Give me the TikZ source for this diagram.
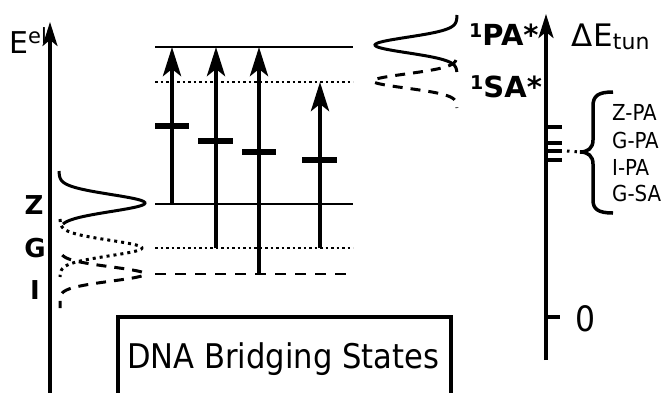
\documentclass[tikz,border=0pt]{standalone}
\usepackage{fontspec}
\setmainfont{DejaVu Sans}
\newfontfamily\condfont{DejaVu Sans Condensed}
\usetikzlibrary{arrows.meta}
\begin{document}
\begin{tikzpicture}[x=1pt,y=-1pt,
  level/.style={line width=2.5pt},
  dotlevel/.style={line width=2.5pt, dash pattern=on 2.5pt off 3pt},
  dashlevel/.style={line width=2.5pt, dash pattern=on 11pt off 9pt},
  excite/.style={line width=4.5pt, -{Stealth[length=29pt,width=18pt,inset=7pt]}},
  bridge/.style={line width=5.5pt},
  axisline/.style={line width=3.5pt, -{Stealth[length=24pt,width=15pt,inset=6pt]}},
  gauss/.style={line width=3pt, smooth},
  gaussdot/.style={gauss, dash pattern=on 3pt off 4pt},
  gaussdash/.style={gauss, dash pattern=on 10pt off 8pt},
  tick/.style={line width=4pt},
  lab/.style={inner sep=0pt, anchor=base west},
  bold/.style={inner sep=0pt, font=\fontsize{26}{26}\selectfont\bfseries},
  tunlab/.style={lab, font=\condfont\fontsize{22}{22}\selectfont},
]
\useasboundingbox (0,0) rectangle (664,392);

% energy axes
\coordinate (eb) at (50,395);
\coordinate (et) at (50,22);
\draw[axisline] (eb) -- (et);
\coordinate (tb) at (546,360);
\coordinate (tt) at (546,14);
\draw[axisline] (tb) -- (tt);

% level lines
\coordinate (paL) at (155,47);  \coordinate (paR) at (353,47);
\coordinate (saL) at (155,82);  \coordinate (saR) at (353,82);
\coordinate (zL) at (155,204);  \coordinate (zR) at (353,204);
\coordinate (gL) at (155,248);  \coordinate (gR) at (353,248);
\coordinate (iL) at (155,274);  \coordinate (iR) at (353,274);
\draw[level] (paL) -- (paR);
\draw[dotlevel] (saL) -- (saR);
\draw[level] (zL) -- (zR);
\draw[dotlevel] (gL) -- (gR);
\draw[dashlevel] (iL) -- (iR);

% excitation arrows
\coordinate (a1s) at (172,204); \coordinate (a1e) at (172,47);
\coordinate (a2s) at (216,248); \coordinate (a2e) at (216,47);
\coordinate (a3s) at (259,274); \coordinate (a3e) at (259,47);
\coordinate (a4s) at (320,248); \coordinate (a4e) at (320,82);
\draw[excite] (a1s) -- (a1e);
\draw[excite] (a2s) -- (a2e);
\draw[excite] (a3s) -- (a3e);
\draw[excite] (a4s) -- (a4e);

% bridging state bars
\coordinate (b1l) at (155,126); \coordinate (b1r) at (189,126);
\coordinate (b2l) at (198,141); \coordinate (b2r) at (233,141);
\coordinate (b3l) at (242,152); \coordinate (b3r) at (276,152);
\coordinate (b4l) at (302,160); \coordinate (b4r) at (337,160);
\draw[bridge] (b1l) -- (b1r);
\draw[bridge] (b2l) -- (b2r);
\draw[bridge] (b3l) -- (b3r);
\draw[bridge] (b4l) -- (b4r);

% ground state distributions
\draw[gauss] plot[domain=171:224, samples=70] ({59+86*exp(-((\x-203)/12)^2)}, \x);
\draw[gaussdot] plot[domain=219:277, samples=70] ({60+82*exp(-((\x-248)/11)^2)}, \x);
\draw[gaussdash] plot[domain=255:308, samples=70] ({60+85*exp(-((\x-274)/10)^2)}, \x);

% excited state distributions
\draw[gauss] plot[domain=15:72, samples=70] ({457-82*exp(-((\x-45)/11)^2)}, \x);
\draw[gaussdash] plot[domain=60:108, samples=70] ({457-84*exp(-((\x-81)/10)^2)}, \x);

% labels
\node[lab, font=\fontsize{30}{30}\selectfont] (eel) at (9,53) {E\raisebox{10pt}{\fontsize{21}{21}\selectfont el}};
\node[lab, font=\fontsize{31}{31}\selectfont] (dE) at (571,46) {Δ\kern1pt E\raisebox{-3pt}{\fontsize{22}{22}\selectfont tun}};
\node[bold] (zlab) at (34,205) {Z};
\node[bold] (glab) at (35,248) {G};
\node[bold] (ilab) at (35,290) {I};
\node[lab, font=\fontsize{29}{29}\selectfont\bfseries] (palab) at (469,45) {\raisebox{8pt}{\fontsize{19}{19}\selectfont 1}PA*};
\node[lab, font=\fontsize{29}{29}\selectfont\bfseries] (salab) at (470,97) {\raisebox{8pt}{\fontsize{19}{19}\selectfont 1}SA*};

% tunnelling energies
\coordinate (t1l) at (545,127); \coordinate (t1r) at (562,127);
\coordinate (t2l) at (545,143); \coordinate (t2r) at (562,143);
\coordinate (t3l) at (545,151); \coordinate (t3r) at (562,151);
\coordinate (t4l) at (545,160); \coordinate (t4r) at (562,160);
\coordinate (t0l) at (545,317); \coordinate (t0r) at (560,317);
\draw[tick] (t1l) -- (t1r);
\draw[tick] (t2l) -- (t2r);
\draw[tick] (t3l) -- (t3r);
\draw[tick] (t4l) -- (t4r);
\draw[tick] (t0l) -- (t0r);
\node[lab, font=\condfont\fontsize{35}{35}\selectfont] (zero) at (575,331) {0};

% brace grouping the four pathways
\coordinate (brtip) at (580,152);
\draw[line width=3.5pt] (613,92) .. controls (598,92) and (593,96) .. (593,106) -- (593,140)
  .. controls (593,148) and (588,152) .. (brtip)
  .. controls (588,152) and (593,156) .. (593,164) -- (593,200)
  .. controls (593,209) and (598,213) .. (613,213);
\draw[line width=3pt, dash pattern=on 2.5pt off 5pt] (t3r) ++(5,0) coordinate (dotS) -- (brtip);
\node[tunlab] (zpa) at (612,120) {Z-PA};
\node[tunlab] (gpa) at (612,148) {G-PA};
\node[tunlab] (ipa) at (612,175) {I-PA};
\node[tunlab] (gsa) at (612,201) {G-SA};

% caption box
\draw[line width=3.5pt] (118,398) -- (118,317) -- (451,317) -- (451,398);
\node[lab, font=\condfont\fontsize{34}{34}\selectfont] (cap) at (127,368) {DNA Bridging States};
\end{tikzpicture}
\end{document}
